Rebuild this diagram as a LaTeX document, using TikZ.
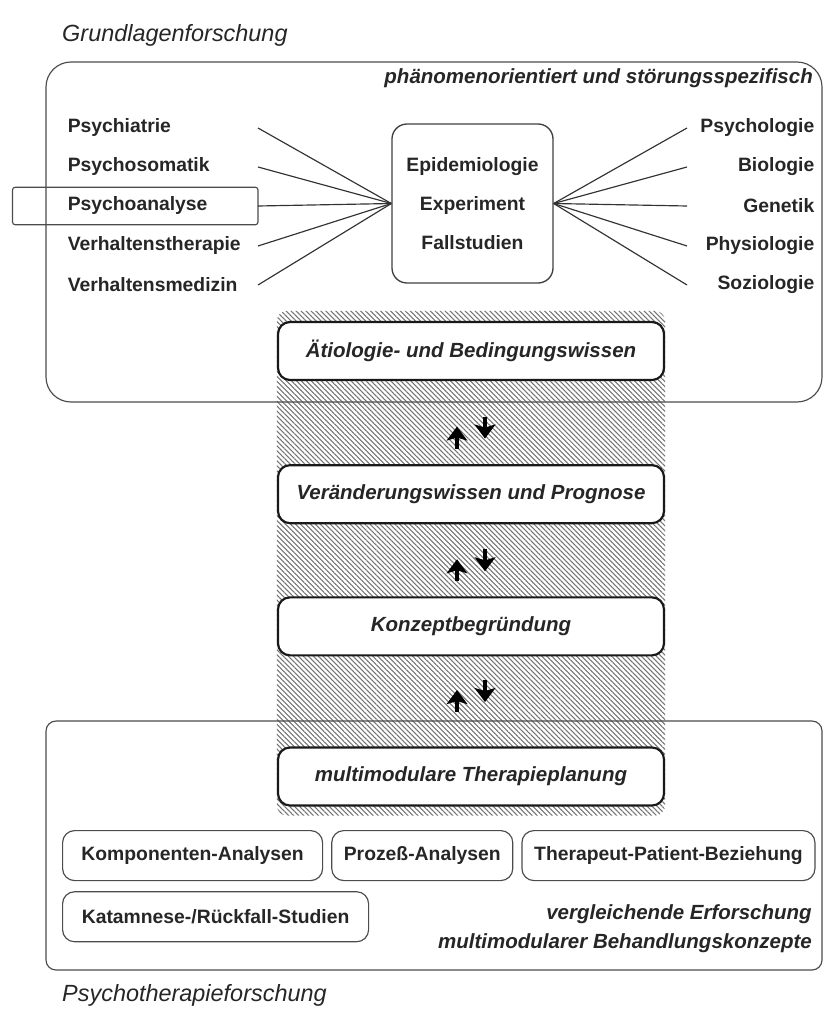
\documentclass[tikz,border=0pt]{standalone}
\usepackage{fontspec}
\setmainfont{Liberation Sans}
\usetikzlibrary{calc}
\usetikzlibrary{arrows.meta, backgrounds}
\usetikzlibrary{positioning, patterns.meta}
\tikzset{
	updown/.pic = {
		\draw[line width=1.4mm, -{Stealth[width=6.2mm,length=4.2mm,inset=0.9mm]}]
			(-14,16) -- (-14,-6);
		\draw[line width=1.4mm, -{Stealth[width=6.2mm,length=4.2mm,inset=0.9mm]}]
			(14,-16) -- (14,6);
	}
}
\begin{document}
\begin{tikzpicture}[
		>=latex,
		x=0.03cm, y=-0.03cm,
		lbl/.style={
			font=\fontsize{16.5}{20}\selectfont\bfseries,
			text=black!85,
			inner sep=0mm
		},
		leftlbl/.style={lbl, text width=5.7cm, align=left, minimum height=1.11cm},
		rightlbl/.style={lbl, text width=3.81cm, align=right, minimum height=1.11cm},
		note/.style={
			font=\fontsize{17.5}{25}\selectfont\bfseries\itshape,
			text=black!85,
			inner sep=0mm
		},
		title/.style={
			font=\fontsize{20}{24}\selectfont\itshape,
			text=black!85,
			inner sep=0mm
		},
		midbox/.style={
			lbl,
			draw=black!75,
			line width=0.4mm,
			rounded corners=0.45cm,
			minimum width=4.83cm,
			minimum height=4.77cm,
			align=center,
			font=\fontsize{16.5}{33.3}\selectfont\bfseries
		},
		wissen/.style={
			note,
			draw=black!90,
			fill=white,
			line width=0.65mm,
			rounded corners=0.36cm,
			minimum width=11.58cm,
			minimum height=1.74cm
		},
		study/.style={
			lbl,
			draw=black!70,
			line width=0.35mm,
			rounded corners=0.36cm,
			minimum height=1.5cm
		},
		outer/.style={draw=black!70, line width=0.35mm},
		fanline/.style={draw=black!80, line width=0.35mm},
	]

	% Fix the canvas
	\useasboundingbox (0,0) rectangle (824,1014);

	% Titles
	\node[title, anchor=west] (grund) at (62,35) {Grundlagenforschung};
	\node[title, anchor=west] (pthf) at (62,995) {Psychotherapieforschung};

	% The four knowledge boxes in the middle column
	\node[wissen] (aet) at (471,351) {Ätiologie- und Bedingungswissen};
	\node[wissen, below=2.49cm of aet] (ver) {Veränderungswissen und Prognose};
	\node[wissen, below=2.16cm of ver] (kon) {Konzeptbegründung};
	\node[wissen, below=2.7cm of kon] (mmt) {multimodulare Therapieplanung};

	% Hatched band behind the column
	\begin{scope}[on background layer]
		\fill[pattern={Lines[angle=-45,distance=3pt,line width=0.9pt]},
			pattern color=black!55, rounded corners=0.3cm]
			($(aet.north west)+(0,-10)$) rectangle ($(mmt.south east)+(0,9)$);
	\end{scope}

	% The two frames
	\draw[outer, rounded corners=0.75cm] (46,62) rectangle (822,402);
	\draw[outer, rounded corners=0.3cm] (46,721) rectangle (822,970);

	\node[note, anchor=east] (phaen) at (813,78)
		{phänomenorientiert und störungsspezifisch};

	% Methods in the centre
	\node[midbox] (mid) at (472.5,203.5) {Epidemiologie\\Experiment\\Fallstudien};

	% Left disciplines
	\node[leftlbl, anchor=east] (psy) at (258,128) {Psychiatrie};
	\node[leftlbl, anchor=east] (pss) at (258,167) {Psychosomatik};
	\node[leftlbl, anchor=east] (psa) at (258,206) {Psychoanalyse};
	\node[leftlbl, anchor=east] (vth) at (258,246) {Verhaltenstherapie};
	\node[leftlbl, anchor=east] (vme) at (258,285) {Verhaltensmedizin};
	\draw[outer, rounded corners=0.08cm]
		([xshift=-1.65cm]psa.south west) rectangle (psa.north east);

	% Right disciplines
	\node[rightlbl, anchor=west] (pso) at (687,128) {Psychologie};
	\node[rightlbl, anchor=west] (bio) at (687,167) {Biologie};
	\node[rightlbl, anchor=west] (gen) at (687,206) {Genetik};
	\node[rightlbl, anchor=west] (phy) at (687,246) {Physiologie};
	\node[rightlbl, anchor=west] (soz) at (687,285) {Soziologie};

	% Fans into the methods box
	\draw[fanline] (psy.east) -- (mid.west);
	\draw[fanline] (pss.east) -- (mid.west);
	\draw[fanline] (psa.east) -- (mid.west);
	\draw[fanline] (vth.east) -- (mid.west);
	\draw[fanline] (vme.east) -- (mid.west);
	\draw[fanline] (pso.west) -- (mid.east);
	\draw[fanline] (bio.west) -- (mid.east);
	\draw[fanline] (gen.west) -- (mid.east);
	\draw[fanline] (phy.west) -- (mid.east);
	\draw[fanline] (soz.west) -- (mid.east);

	% Up and down arrows between the boxes
	\pic at ($(aet.south)!0.62!(ver.north)$) {updown};
	\pic at ($(ver.south)!0.57!(kon.north)$) {updown};
	\pic at ($(kon.south)!0.44!(mmt.north)$) {updown};

	% Studies in the lower frame
	\node[study, minimum width=7.8cm, anchor=north west] (komp) at (62,830)
		{Komponenten-Analysen};
	\node[study, minimum width=5.43cm, right=0.24cm of komp] (proz) {Prozeß-Analysen};
	\node[study, minimum width=8.79cm, right=0.24cm of proz] (ther)
		{Therapeut-Patient-Beziehung};
	\node[study, minimum width=9.18cm, below right=0.3cm and 0cm of komp.south west] (kat)
		{Katamnese-/Rückfall-Studien};

	\node[note, anchor=east, align=right] (vgl) at (812,929)
		{vergleichende Erforschung\\multimodularer Behandlungskonzepte};

\end{tikzpicture}
\end{document}
